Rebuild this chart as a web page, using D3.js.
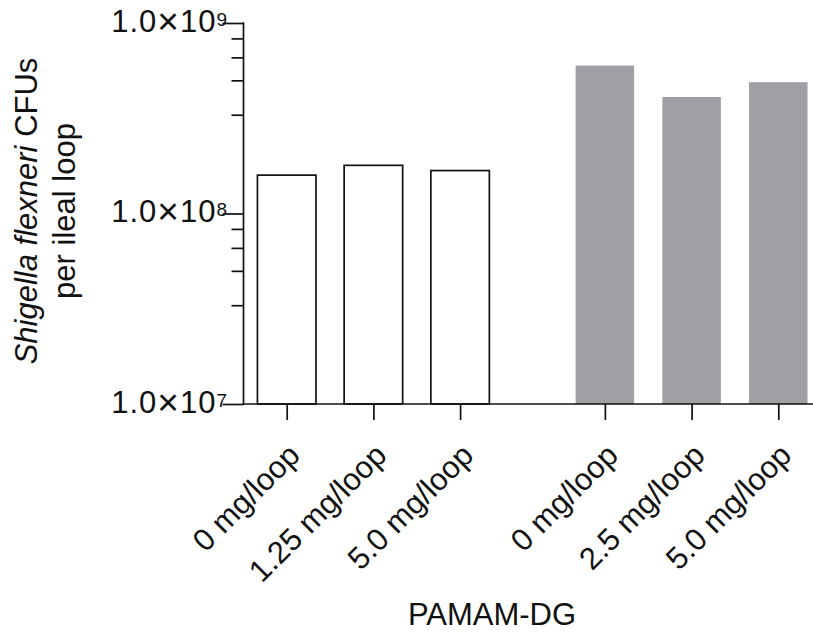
<!DOCTYPE html>
<html>
<head>
<meta charset="utf-8">
<script src="https://cdn.jsdelivr.net/npm/d3@7"></script>
<style>
  html, body { margin: 0; padding: 0; background: #fff; }
  svg { display: block; }
  text { font-family: Arial, "Liberation Sans", Helvetica, sans-serif; fill: #111; }
</style>
</head>
<body>
<script>
// Doses per treatment arm (x categories), grouped into two arms
const doseLabels = ["0 mg/loop", "1.25 mg/loop", "5.0 mg/loop", "0 mg/loop", "2.5 mg/loop", "5.0 mg/loop"];
const doseGroup  = [0, 0, 0, 1, 1, 1];
// Shigella flexneri CFUs recovered per ileal loop
const cfuValues  = [1.59e8, 1.79e8, 1.68e8, 5.98e8, 4.09e8, 4.89e8];
// Axis ticks
const majorTicks = [1e7, 1e8, 1e9];
const majorTickExponents = ["7", "8", "9"];
const minorTicks = [3.3e7, 5e7, 6.6e7, 8.3e7, 3.3e8, 5e8, 6.6e8, 8.3e8];

const W = 813, H = 632;
const axisX = 243.5, baseY = 404;
const groupGap = 0.67;
const barFrac = 0.675;
const greyFill = "#a09fa4";
const ink = "#111";
const fs = 31;

const svg = d3.select("body").append("svg")
  .attr("width", W).attr("height", H);

const y = d3.scaleLog().domain([1e7, 1e9]).range([baseY, 23]);

// slot position: index plus an extra gap between the two arms
const slot = doseLabels.map((d, i) => i + doseGroup[i] * groupGap);
const x = d3.scaleLinear().domain([0, 1]).range([286.7, 373.4]);
const step = x(1) - x(0);
const bw = step * barFrac;

// Bars
svg.append("g").selectAll("rect")
  .data(cfuValues)
  .join("rect")
  .attr("x", (d, i) => x(slot[i]) - bw / 2)
  .attr("width", bw)
  .attr("y", d => y(d))
  .attr("height", d => baseY - y(d))
  .attr("fill", (d, i) => doseGroup[i] === 0 ? "#fff" : greyFill)
  .attr("stroke", (d, i) => doseGroup[i] === 0 ? ink : "none")
  .attr("stroke-width", 1.7);

// Y axis (log) with major and minor ticks
const yAxis = svg.append("g").attr("transform", `translate(${axisX},0)`);
yAxis.call(d3.axisLeft(y).tickValues(majorTicks).tickSize(21).tickFormat(""))
  .call(g => g.select(".domain").remove());
yAxis.append("g").call(d3.axisLeft(y).tickValues(minorTicks).tickSize(12).tickFormat(""))
  .call(g => g.select(".domain").remove());
yAxis.selectAll("line").attr("stroke", ink).attr("stroke-width", 1.7);
yAxis.append("line")
  .attr("x1", 0).attr("x2", 0)
  .attr("y1", y(1e9) - 0.85).attr("y2", baseY + 0.85)
  .attr("stroke", ink).attr("stroke-width", 1.7);

// Y tick labels written as 1.0×10^n
const yLab = svg.append("g");
majorTicks.forEach((v, i) => {
  const t = yLab.append("text")
    .attr("x", 228)
    .attr("y", y(v) + 8.5)
    .attr("text-anchor", "end")
    .style("font-size", fs + "px")
    .style("letter-spacing", "1px");
  t.append("tspan").text("1.0");
  t.append("tspan").attr("dy", 2).style("font-size", "37px").text("×");
  t.append("tspan").attr("dy", -2).text("10");
  t.append("tspan").attr("dy", -6).style("font-size", "19px").text(majorTickExponents[i]);
});

// X axis
const xAxis = svg.append("g").attr("transform", `translate(0,${baseY})`);
xAxis.call(d3.axisBottom(x).tickValues(slot).tickSize(16).tickFormat(""))
  .call(g => g.select(".domain").remove());
xAxis.selectAll("line").attr("stroke", ink).attr("stroke-width", 1.7);
xAxis.append("line")
  .attr("x1", axisX - 0.85).attr("x2", W)
  .attr("y1", 0).attr("y2", 0)
  .attr("stroke", ink).attr("stroke-width", 1.7);

// Rotated dose labels
svg.append("g").selectAll("text")
  .data(doseLabels)
  .join("text")
  .attr("text-anchor", "end")
  .attr("transform", (d, i) => `translate(${x(slot[i]) + 15},${baseY + 53}) rotate(-45)`)
  .style("font-size", fs + "px")
  .text(d => d);

// X axis title
svg.append("text")
  .attr("x", 492).attr("y", 625)
  .attr("text-anchor", "middle")
  .style("font-size", fs + "px")
  .text("PAMAM-DG");

// Y axis title (two lines, species name in italics)
const midY = 211;
const yt = svg.append("text")
  .attr("transform", `translate(37,${midY}) rotate(-90)`)
  .attr("text-anchor", "middle")
  .style("font-size", fs + "px");
yt.append("tspan").style("font-style", "italic").text("Shigella flexneri");
yt.append("tspan").text(" CFUs");
svg.append("text")
  .attr("transform", `translate(75,${midY}) rotate(-90)`)
  .attr("text-anchor", "middle")
  .style("font-size", fs + "px")
  .text("per ileal loop");
</script>
</body>
</html>
